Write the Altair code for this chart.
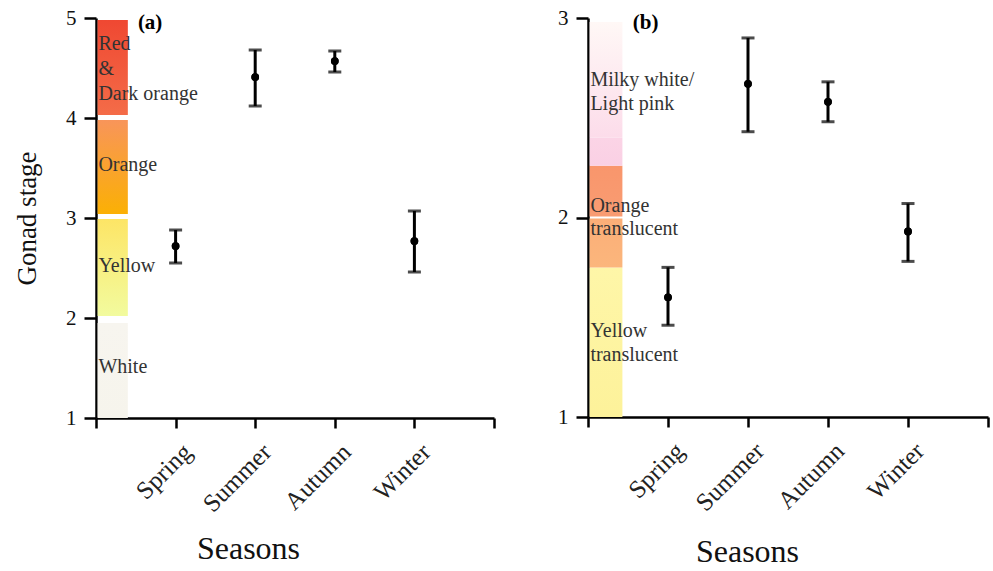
import altair as alt
import pandas as pd

# ---------------- data ----------------
seasons = ["Spring", "Summer", "Autumn", "Winter"]
season_pos = [1, 2, 3, 4]

a_mean = [2.72, 4.41, 4.57, 2.77]
a_low = [2.55, 4.12, 4.46, 2.46]
a_high = [2.88, 4.68, 4.67, 3.07]

b_mean = [1.60, 2.67, 2.58, 1.93]
b_low = [1.46, 2.43, 2.48, 1.78]
b_high = [1.75, 2.90, 2.68, 2.07]

# colour bands (gonad colour scale) panel a
a_band_lo = [1.00, 2.02, 3.04, 4.03]
a_band_hi = [1.95, 2.99, 3.98, 4.98]
a_band_bottom = ["#f6f4ec", "#f2fb9e", "#fbb004", "#f46c48"]
a_band_top = ["#f7f5ef", "#fde566", "#f8955a", "#ef4832"]

# colour bands panel b
b_band_lo = [1.00, 1.75, 2.005, 2.26, 2.40]
b_band_hi = [1.75, 1.995, 2.26, 2.40, 2.98]
b_band_bottom = ["#fdf29a", "#fbb67c", "#f99c72", "#fad0e4", "#fcdcea"]
b_band_top = ["#fef6a8", "#fbae78", "#f9966c", "#fbd4e6", "#fff8f6"]

a_label_text = ["Red", "&", "Dark orange", "Orange", "Yellow", "White"]
a_label_y = [4.68, 4.43, 4.18, 3.47, 2.46, 1.45]
b_label_text = ["Milky white/", "Light pink", "Orange", "translucent", "Yellow", "translucent"]
b_label_y = [2.66, 2.54, 2.03, 1.91, 1.40, 1.28]

a_yticks = [1, 2, 3, 4, 5]
b_yticks = [1, 2, 3]

FONT = "Liberation Serif"
LABEL_EXPR = "['', 'Spring', 'Summer', 'Autumn', 'Winter', ''][datum.value]"


def panel(mean, low, high, band_lo, band_hi, band_bottom, band_top, band_x2,
          lab_text, lab_y, ydom, yticks, tag, tag_x, ytitle, title_x, title_y, w, h):
    pts = pd.DataFrame({"x": season_pos, "season": seasons, "m": mean, "lo": low, "hi": high})
    labs = pd.DataFrame({"t": lab_text, "y": lab_y, "x": [0.03] * len(lab_text)})

    x_axis = alt.Axis(values=[0, 1, 2, 3, 4, 5], labelExpr=LABEL_EXPR, labelAngle=-45,
                      labelFont=FONT,
                      labelFontSize={"condition": {"test": "datum.value < 1 || datum.value > 4", "value": 0},
                                     "value": 25},
                      labelColor="#222", labelOffset=3,
                      title="Seasons", titleFont=FONT, titleFontSize=32, titleFontWeight="normal",
                      titleColor="#111", titleX=title_x, titleY=title_y,
                      titleAlign="center", titleBaseline="alphabetic",
                      domainColor="black", domainWidth=2.5, tickColor="black", tickWidth=2.5,
                      tickSize=10, grid=False, labelPadding=11)
    y_kwargs = dict(tickCount=len(yticks) - 1, format="d", labelFont=FONT, labelFontSize=21,
                    labelOverlap=False, labelColor="#111", domainColor="black", domainWidth=2.5,
                    tickColor="black", tickWidth=2.5, tickSize=12, grid=False, labelPadding=8)
    if ytitle:
        y_axis = alt.Axis(title=ytitle, titleFont=FONT, titleFontSize=27, titleFontWeight="normal",
                          titleColor="#111", titleX=-69, titleY=h / 2, titleAngle=-90,
                          titleAlign="center", titleBaseline="middle", **y_kwargs)
    else:
        y_axis = alt.Axis(title="", **y_kwargs)

    xs = alt.Scale(domain=[0, 5], nice=False, zero=False)
    ys = alt.Scale(domain=ydom, nice=False, zero=False)

    layers = []
    for lo, hi, cb, ct in zip(band_lo, band_hi, band_bottom, band_top):
        d = pd.DataFrame({"x": [0.02], "x2": [band_x2], "lo": [lo], "hi": [hi]})
        grad = alt.Gradient(gradient="linear",
                            stops=[alt.GradientStop(color=cb, offset=0),
                                   alt.GradientStop(color=ct, offset=1)],
                            x1=0, x2=0, y1=1, y2=0)
        layers.append(
            alt.Chart(d).mark_rect(color=grad).encode(
                x=alt.X("x:Q", scale=xs),
                x2="x2:Q",
                y=alt.Y("lo:Q", scale=ys),
                y2="hi:Q",
            )
        )

    base = alt.Chart(pts)
    dots = base.mark_point(filled=True, color="black", size=60, opacity=1).encode(
        x=alt.X("x:Q", scale=xs, axis=x_axis), y=alt.Y("m:Q", scale=ys, axis=y_axis))
    rule = base.mark_rule(color="black", strokeWidth=3).encode(
        x=alt.X("x:Q", scale=xs), y=alt.Y("lo:Q", scale=ys), y2="hi:Q")
    cap_hi = base.mark_tick(color="black", orient="horizontal", size=13, thickness=3).encode(
        x=alt.X("x:Q", scale=xs), y=alt.Y("hi:Q", scale=ys))
    cap_lo = base.mark_tick(color="black", orient="horizontal", size=13, thickness=3).encode(
        x=alt.X("x:Q", scale=xs), y=alt.Y("lo:Q", scale=ys))

    text = alt.Chart(labs).mark_text(align="left", baseline="alphabetic", font=FONT,
                                     fontSize=20, color="#333").encode(
        x=alt.X("x:Q", scale=xs), y=alt.Y("y:Q", scale=ys), text="t:N")

    tagd = pd.DataFrame({"t": [tag], "x": [tag_x], "y": [ydom[1] - (ydom[1] - ydom[0]) * 0.0125]})
    tagm = alt.Chart(tagd).mark_text(align="center", baseline="middle", font=FONT,
                                     fontSize=21, fontWeight="bold", color="black").encode(
        x=alt.X("x:Q", scale=xs), y=alt.Y("y:Q", scale=ys), text="t:N")

    return alt.layer(dots, *layers, rule, cap_hi, cap_lo, dots, text, tagm).properties(
        width=w, height=h)


pa = panel(a_mean, a_low, a_high, a_band_lo, a_band_hi, a_band_bottom, a_band_top, 0.40,
           a_label_text, a_label_y, [1, 5], a_yticks, "(a)", 0.68, "Gonad stage", 152, 140,
           398, 400)
pb = panel(b_mean, b_low, b_high, b_band_lo, b_band_hi, b_band_bottom, b_band_top, 0.43,
           b_label_text, b_label_y, [1, 3], b_yticks, "(b)", 0.72, None, 159, 144,
           400, 399)

chart = alt.hconcat(pa, pb, spacing=94, bounds="flush").configure_view(
    strokeWidth=0).properties(
    background="white",
    padding={"left": 13, "top": 7, "right": 0, "bottom": 0})

chart.save("out.html", embed_options={"renderer": "svg", "actions": False})
